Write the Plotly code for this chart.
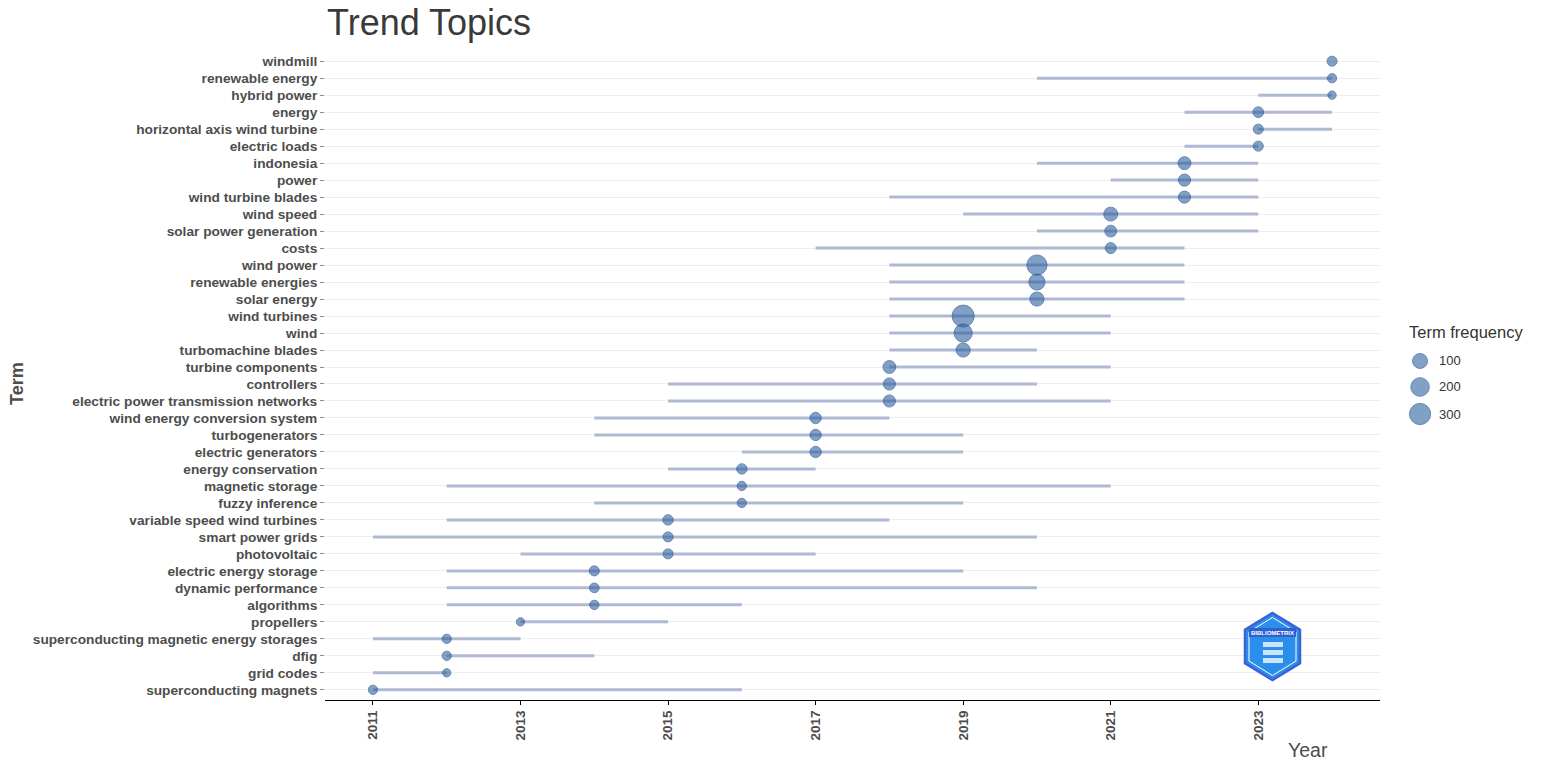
import plotly.graph_objects as go

# ---------------- data (top to bottom as drawn) ----------------
terms = [
    "windmill", "renewable energy", "hybrid power", "energy",
    "horizontal axis wind turbine", "electric loads", "indonesia", "power",
    "wind turbine blades", "wind speed", "solar power generation", "costs",
    "wind power", "renewable energies", "solar energy", "wind turbines", "wind",
    "turbomachine blades", "turbine components", "controllers",
    "electric power transmission networks", "wind energy conversion system",
    "turbogenerators", "electric generators", "energy conservation",
    "magnetic storage", "fuzzy inference", "variable speed wind turbines",
    "smart power grids", "photovoltaic", "electric energy storage",
    "dynamic performance", "algorithms", "propellers",
    "superconducting magnetic energy storages", "dfig", "grid codes",
    "superconducting magnets",
]
year_median = [2024, 2024, 2024, 2023, 2023, 2023, 2022, 2022, 2022, 2021, 2021, 2021,
               2020, 2020, 2020, 2019, 2019, 2019, 2018, 2018, 2018, 2017, 2017, 2017,
               2016, 2016, 2016, 2015, 2015, 2015, 2014, 2014, 2014, 2013, 2012, 2012,
               2012, 2011]
year_q1 = [2024, 2020, 2023, 2022, 2023, 2022, 2020, 2021, 2018, 2019, 2020, 2017,
           2018, 2018, 2018, 2018, 2018, 2018, 2018, 2015, 2015, 2014, 2014, 2016,
           2015, 2012, 2014, 2012, 2011, 2013, 2012, 2012, 2012, 2013, 2011, 2012,
           2011, 2011]
year_q3 = [2024, 2024, 2024, 2024, 2024, 2023, 2023, 2023, 2023, 2023, 2023, 2022,
           2022, 2022, 2022, 2021, 2021, 2020, 2021, 2020, 2021, 2018, 2019, 2019,
           2017, 2021, 2019, 2018, 2020, 2017, 2019, 2020, 2016, 2015, 2013, 2014,
           2012, 2016]
freq = [35, 25, 15, 45, 35, 35, 85, 70, 70, 110, 65, 50,
        320, 170, 115, 400, 240, 115, 85, 70, 70, 55, 55, 55,
        40, 25, 25, 40, 35, 35, 35, 30, 25, 15, 25, 25, 15, 25]
legend_freq = [100, 200, 300]
x_ticks = [2011, 2013, 2015, 2017, 2019, 2021, 2023]


def dia(f):
    return 5 + 0.85 * f ** 0.5


W, H = 1543, 771
L, R, T, B = 325, 10, 51, 71
PW, PH = W - L - R, H - T - B

PT_FILL = "rgba(42,94,160,0.84)"
PT_LINE = "rgba(38,80,138,0.95)"


def px2paper(x, y):
    return (x - L) / PW, (H - B - y) / PH


fig = go.Figure()

# ranges (lines)
lx, ly = [], []
for t, a, b in zip(terms, year_q1, year_q3):
    lx += [a, b, None]
    ly += [t, t, None]
fig.add_trace(go.Scatter(x=lx, y=ly, mode="lines",
                         line=dict(color="#AFB9D3", width=3),
                         hoverinfo="skip", showlegend=False))

# points
fig.add_trace(go.Scatter(
    x=year_median, y=terms, mode="markers",
    marker=dict(size=[dia(f) for f in freq], color=PT_FILL,
                line=dict(color=PT_LINE, width=1)),
    customdata=freq, hovertemplate="%{y}<br>%{x}<br>freq %{customdata}<extra></extra>",
    showlegend=False))

# size legend on a helper axis
fig.add_trace(go.Scatter(
    x=[0.187] * 3, y=[0.531, 0.331, 0.123], mode="markers",
    marker=dict(size=[dia(f) + 1.5 for f in legend_freq], color=PT_FILL,
                line=dict(color=PT_LINE, width=1)),
    xaxis="x2", yaxis="y2", hoverinfo="skip", showlegend=False))

annotations = []
for f, yy in zip(legend_freq, [0.531, 0.331, 0.123]):
    annotations.append(dict(text=str(f), x=0.309, y=yy, xref="x2", yref="y2",
                            xanchor="left", yanchor="middle", showarrow=False,
                            font=dict(size=13, color="#333333")))
annotations.append(dict(text="Term frequency", x=0.094, y=0.754, xref="x2", yref="y2",
                        xanchor="left", yanchor="middle", showarrow=False,
                        font=dict(size=16.5, color="#333333")))

# titles
tx, ty = px2paper(325, 22)
annotations.append(dict(text="Trend Topics", x=tx, y=ty, xref="paper", yref="paper",
                        xanchor="left", yanchor="middle", showarrow=False,
                        font=dict(size=36, color="#3A3A3A")))
tx, ty = px2paper(17, 383)
annotations.append(dict(text="<b>Term</b>", x=tx, y=ty, xref="paper", yref="paper",
                        xanchor="center", yanchor="middle", textangle=-90, showarrow=False,
                        font=dict(size=18, color="#4D4D4D")))
tx, ty = px2paper(1308, 750)
annotations.append(dict(text="Year", x=tx, y=ty, xref="paper", yref="paper",
                        xanchor="center", yanchor="middle", showarrow=False,
                        font=dict(size=19.5, color="#4D4D4D")))

# logo (hexagon)
def hexpath(cx, cy, rw, rh):
    pts = [(cx, cy - rh), (cx + rw, cy - rh / 2), (cx + rw, cy + rh / 2),
           (cx, cy + rh), (cx - rw, cy + rh / 2), (cx - rw, cy - rh / 2)]
    pp = [px2paper(x, y) for x, y in pts]
    return "M " + " L ".join(f"{x:.5f},{y:.5f}" for x, y in pp) + " Z"

shapes = [
    dict(type="path", path=hexpath(1272.5, 646.5, 27.5, 33.5), xref="paper", yref="paper",
         fillcolor="#2A8EEA", line=dict(color="#3B62D6", width=2.5), layer="above"),
    dict(type="path", path=hexpath(1272.5, 646.5, 23.5, 29), xref="paper", yref="paper",
         fillcolor="rgba(0,0,0,0)", line=dict(color="white", width=1), layer="above"),
]
bx0, by0 = px2paper(1249, 628)
bx1, by1 = px2paper(1296, 637)
shapes.append(dict(type="rect", x0=bx0, y0=by0, x1=bx1, y1=by1, xref="paper", yref="paper",
                   fillcolor="#2F5FD0", line=dict(width=0), layer="above"))
for yy in [642, 650, 658]:
    a0, b0 = px2paper(1263, yy)
    a1, b1 = px2paper(1283, yy + 5)
    shapes.append(dict(type="rect", x0=a0, y0=b0, x1=a1, y1=b1, xref="paper", yref="paper",
                       fillcolor="rgba(255,255,255,0.75)", line=dict(width=0), layer="above"))
tx, ty = px2paper(1272.5, 632.5)
annotations.append(dict(text="<b>BIBLIOMETRIX</b>", x=tx, y=ty, xref="paper", yref="paper",
                        xanchor="center", yanchor="middle", showarrow=False,
                        font=dict(size=6, color="white")))

fig.update_layout(
    width=W, height=H,
    margin=dict(l=L, r=R, t=T, b=B, autoexpand=False),
    paper_bgcolor="white", plot_bgcolor="white",
    font=dict(family="Liberation Sans, Arial, sans-serif"),
    xaxis=dict(domain=[0, (1380 - L) / PW], range=[2010.35, 2024.65],
               tickvals=x_ticks, ticktext=[str(v) for v in x_ticks],
               tickangle=-90, showgrid=False, zeroline=False,
               showline=True, linecolor="black", linewidth=1.3,
               ticks="outside", ticklen=4, tickcolor="black", tickwidth=1,
               tickfont=dict(size=13.5, color="#4D4D4D", weight="bold")),
    yaxis=dict(categoryorder="array", categoryarray=terms[::-1], range=[-0.6, 37.6],
               showgrid=True, gridcolor="#EEEEEE", gridwidth=1, zeroline=False,
               showline=False, ticks="outside", ticklen=4, tickcolor="#8A8A8A",
               tickfont=dict(size=13.7, color="#4D4D4D", weight="bold")),
    xaxis2=dict(domain=[0.885, 1.0], range=[0, 1], visible=False, anchor="y2"),
    yaxis2=dict(domain=[(H - B - 430) / PH, (H - B - 300) / PH], range=[0, 1],
                visible=False, anchor="x2"),
    annotations=annotations,
    shapes=shapes,
)

fig.write_html("out.html")
